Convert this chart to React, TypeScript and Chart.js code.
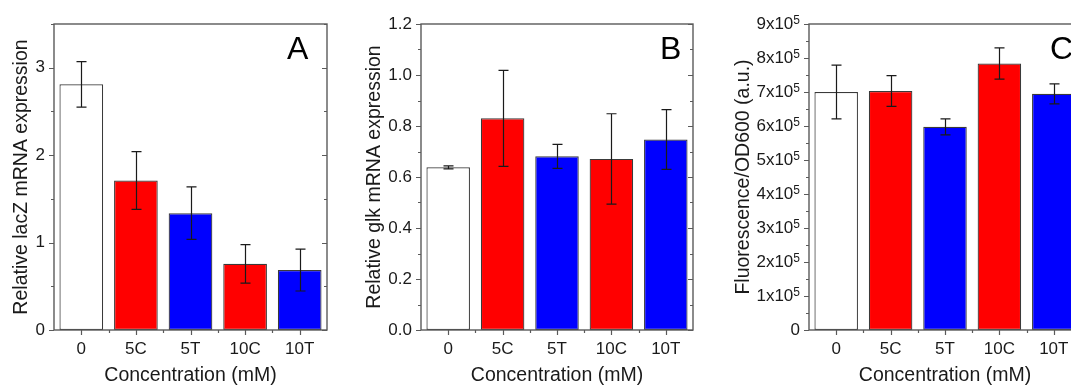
import React, { useEffect, useRef } from "react";
import { Chart, registerables } from "chart.js";

Chart.register(...registerables);

// ---------- data ----------
const categories = ["0", "5C", "5T", "10C", "10T"];
const barColors = ["#ffffff", "#ff0000", "#0000ff", "#ff0000", "#0000ff"];

const lacZValues = [2.81, 1.71, 1.336, 0.757, 0.686];
const lacZErrors = [0.26, 0.33, 0.3, 0.22, 0.24];

const glkValues = [0.638, 0.83, 0.681, 0.671, 0.747];
const glkErrors = [0.006, 0.188, 0.047, 0.177, 0.117];

const fluorValues = [7.0e5, 7.03e5, 5.975e5, 7.84e5, 6.945e5];
const fluorErrors = [0.79e5, 0.45e5, 0.235e5, 0.46e5, 0.295e5];

const xTitle = "Concentration (mM)";

// ---------- style ----------
const FONT = "'Liberation Sans', Arial, Helvetica, sans-serif";
const INK = "#1a1a1a";
const FRAME = "#5a5a5a";
const TITLE_SIZE = 19.5;

type Panel = {
  left: number;
  width: number;
  values: number[];
  errors: number[];
  yMax: number;
  yStep: number;
  yMinor: number;
  yTitle: string;
  letter: string;
  letterX: number;
  yAxisWidth: number;
  rightPad: number;
  yTitlePad: number;
  fmt: (v: number) => string;
  sup: boolean;
};

const panels: Panel[] = [
  {
    left: 0,
    width: 357,
    values: lacZValues,
    errors: lacZErrors,
    yMax: 3.5,
    yStep: 1,
    yMinor: 0.5,
    yTitle: "Relative lacZ mRNA expression",
    letter: "A",
    letterX: 287,
    yAxisWidth: 54,
    rightPad: 30,
    yTitlePad: 12,
    fmt: (v) => String(Math.round(v)),
    sup: false,
  },
  {
    left: 357,
    width: 357,
    values: glkValues,
    errors: glkErrors,
    yMax: 1.2,
    yStep: 0.2,
    yMinor: 0.1,
    yTitle: "Relative glk mRNA expression",
    letter: "B",
    letterX: 303,
    yAxisWidth: 64,
    rightPad: 21,
    yTitlePad: 7.5,
    fmt: (v) => v.toFixed(1),
    sup: false,
  },
  {
    left: 714,
    width: 386,
    values: fluorValues,
    errors: fluorErrors,
    yMax: 9e5,
    yStep: 1e5,
    yMinor: 0.5e5,
    yTitle: "Fluorescence/OD600 (a.u.)",
    letter: "C",
    letterX: 336,
    yAxisWidth: 95,
    rightPad: 19,
    yTitlePad: 20,
    fmt: (v) => (v === 0 ? "0" : `${Math.round(v / 1e5)}x10 5`),
    sup: true,
  },
];

function decorPlugin(p: Panel) {
  return {
    id: "decor",
    afterDraw(chart: any) {
      const { ctx, chartArea: ca } = chart;
      const x = chart.scales.x;
      const y = chart.scales.y;
      ctx.save();

      // error bars
      ctx.strokeStyle = INK;
      ctx.lineWidth = 1.2;
      p.values.forEach((v, i) => {
        const px = Math.round(x.getPixelForValue(i)) + 0.5;
        const yt = y.getPixelForValue(v + p.errors[i]);
        const yb = y.getPixelForValue(v - p.errors[i]);
        ctx.beginPath();
        ctx.moveTo(px, yt);
        ctx.lineTo(px, yb);
        ctx.moveTo(px - 5, yt);
        ctx.lineTo(px + 5, yt);
        ctx.moveTo(px - 5, yb);
        ctx.lineTo(px + 5, yb);
        ctx.stroke();
      });

      // frame
      ctx.strokeStyle = FRAME;
      ctx.lineWidth = 1.4;
      ctx.strokeRect(ca.left, ca.top, ca.right - ca.left, ca.bottom - ca.top);

      // y ticks (left outward, right inward)
      ctx.lineWidth = 1.2;
      const n = Math.round(p.yMax / p.yMinor);
      ctx.beginPath();
      for (let k = 0; k <= n; k++) {
        const v = k * p.yMinor;
        const r = v / p.yStep;
        const major = Math.abs(r - Math.round(r)) < 1e-6;
        const len = major ? 5 : 3;
        const py = Math.round(y.getPixelForValue(v)) + 0.5;
        ctx.moveTo(ca.left - len, py);
        ctx.lineTo(ca.left, py);
        ctx.moveTo(ca.right - len, py);
        ctx.lineTo(ca.right, py);
      }
      // x ticks
      for (let i = 0; i < categories.length; i++) {
        const px = Math.round(x.getPixelForValue(i)) + 0.5;
        ctx.moveTo(px, ca.bottom);
        ctx.lineTo(px, ca.bottom + 5);
        if (i < categories.length - 1) {
          const mx = Math.round((x.getPixelForValue(i) + x.getPixelForValue(i + 1)) / 2) + 0.5;
          ctx.moveTo(mx, ca.bottom);
          ctx.lineTo(mx, ca.bottom + 3);
        }
      }
      ctx.stroke();

      // superscript tick labels
      if (p.sup) {
        ctx.fillStyle = INK;
        const right = ca.left - 9;
        y.ticks.forEach((t: any) => {
          const py = y.getPixelForValue(t.value);
          ctx.textAlign = "right";
          if (t.value === 0) {
            ctx.font = `17px ${FONT}`;
            ctx.textBaseline = "middle";
            ctx.fillText("0", right, py);
            return;
          }
          ctx.font = `12px ${FONT}`;
          const sw = ctx.measureText("5").width;
          ctx.textBaseline = "alphabetic";
          ctx.fillText("5", right, py - 0.5);
          ctx.font = `17px ${FONT}`;
          ctx.textBaseline = "middle";
          ctx.fillText(`${Math.round(t.value / 1e5)}x10`, right - sw, py);
        });
      }

      // panel letter
      ctx.fillStyle = "#000";
      ctx.font = `32px ${FONT}`;
      ctx.textAlign = "left";
      ctx.textBaseline = "alphabetic";
      ctx.fillText(p.letter, p.letterX, 59);

      ctx.restore();
    },
  };
}

function buildConfig(p: Panel): any {
  return {
    type: "bar",
    data: {
      labels: categories,
      datasets: [
        {
          data: p.values,
          backgroundColor: barColors,
          borderColor: "#3a3a3a",
          borderWidth: 1.2,
          borderSkipped: false,
          categoryPercentage: 1,
          barPercentage: 0.8,
        },
      ],
    },
    options: {
      animation: false,
      responsive: false,
      maintainAspectRatio: false,
      layout: { padding: { left: 0, top: 24, right: p.rightPad, bottom: 0 } },
      plugins: { legend: { display: false }, tooltip: { enabled: false } },
      scales: {
        x: {
          type: "category",
          offset: true,
          grid: { display: false, drawTicks: false },
          border: { display: false },
          ticks: {
            font: { family: FONT, size: 17 },
            color: INK,
            padding: 9,
            maxRotation: 0,
            autoSkip: false,
          },
          title: {
            display: true,
            text: xTitle,
            font: { family: FONT, size: TITLE_SIZE, lineHeight: 1 },
            color: INK,
            padding: { top: 0, bottom: 0 },
          },
          afterFit: (s: any) => {
            s.height = 55;
          },
        },
        y: {
          min: 0,
          max: p.yMax,
          grid: { display: false, drawTicks: false },
          border: { display: false },
          ticks: {
            stepSize: p.yStep,
            includeBounds: false,
            font: { family: FONT, size: 17 },
            color: p.sup ? "rgba(0,0,0,0)" : INK,
            padding: 9,
            callback: (v: any) => p.fmt(Number(v)),
          },
          title: {
            display: true,
            text: p.yTitle,
            font: { family: FONT, size: TITLE_SIZE, lineHeight: 1 },
            color: INK,
            padding: { top: p.yTitlePad, bottom: 0 },
          },
          afterFit: (s: any) => {
            s.width = p.yAxisWidth;
          },
        },
      },
    },
    plugins: [decorPlugin(p)],
  };
}

export default function App() {
  const refs = useRef<(HTMLCanvasElement | null)[]>([]);
  useEffect(() => {
    const charts = panels.map((p, i) => new Chart(refs.current[i] as HTMLCanvasElement, buildConfig(p)));
    return () => charts.forEach((c) => c.destroy());
  }, []);
  return (
    <div
      style={{
        position: "fixed",
        left: 0,
        top: 0,
        width: 1071,
        height: 385,
        overflow: "hidden",
        background: "#ffffff",
      }}
    >
      {panels.map((p, i) => (
        <canvas
          key={i}
          ref={(el) => {
            refs.current[i] = el;
          }}
          width={p.width}
          height={385}
          style={{ position: "absolute", left: p.left, top: 0, width: p.width, height: 385 }}
        />
      ))}
    </div>
  );
}
